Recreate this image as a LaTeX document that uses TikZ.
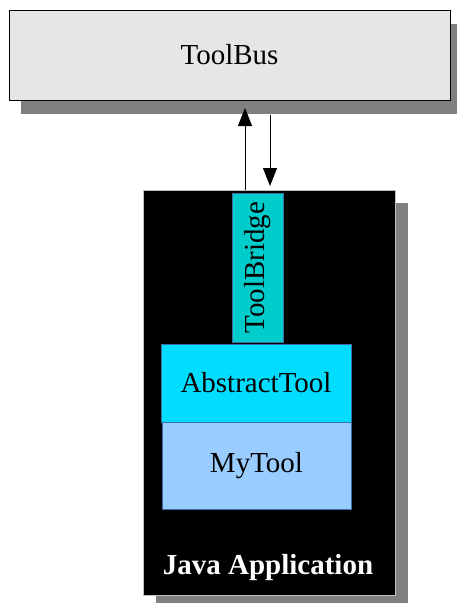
\documentclass[tikz,border=0pt]{standalone}
\usepackage{fontspec}
\setmainfont{Liberation Serif}
\usetikzlibrary{arrows.meta,shadows}
\definecolor{busgray}{HTML}{E6E6E6}
\definecolor{bridgeteal}{HTML}{00CCCC}
\definecolor{abstractcyan}{HTML}{00DDFF}
\definecolor{toolblue}{HTML}{99CCFF}
\definecolor{edgeblue}{HTML}{3A6EA5}
\begin{document}
\begin{tikzpicture}[x=1pt, y=-1pt,
        every node/.style={inner sep=0pt, outer sep=0pt, font=\fontsize{29}{35}\selectfont},
        shade box/.style={drop shadow={shadow xshift=#1, shadow yshift=-#1, fill=black!50, opacity=1}},
        link/.style={line width=0.9pt, -{Triangle[length=18pt, width=14pt]}}]
    \useasboundingbox (0,0) rectangle (456,603);

    % bus on top
    \node[draw=black, line width=0.9pt, fill=busgray, minimum width=441pt, minimum height=90pt,
          drop shadow={shadow xshift=12pt, shadow yshift=-14pt, fill=black!50, opacity=1}]
          (bus) at (229.5,55) {ToolBus};

    % application container
    \node[draw=gray!50, fill=black, minimum width=252pt, minimum height=405pt, shade box=13pt]
          (java) at (269,392.5) {};
    \node[draw=edgeblue, line width=0.5pt, fill=bridgeteal, minimum width=149pt, minimum height=51pt, rotate=90]
          (bridge) at (257.5,267.5) {ToolBridge};
    \node[draw=edgeblue, line width=0.6pt, fill=abstractcyan, minimum width=190pt, minimum height=78pt]
          (abstract) at (256,383) {AbstractTool};
    \node[draw=edgeblue, line width=0.6pt, fill=toolblue, minimum width=189pt, minimum height=87pt]
          (mytool) at (256.5,465.5) {MyTool};
    \node[text=white, font=\fontsize{29}{35}\selectfont\bfseries] (label) at (268,568) {Java Application};

    % messages
    \coordinate (up1) at (245,190);
    \coordinate (up2) at (245,108);
    \coordinate (dn1) at (270,115);
    \coordinate (dn2) at (270,186);
    \draw[link] (up1) -- (up2);
    \draw[link] (dn1) -- (dn2);
\end{tikzpicture}
\end{document}
